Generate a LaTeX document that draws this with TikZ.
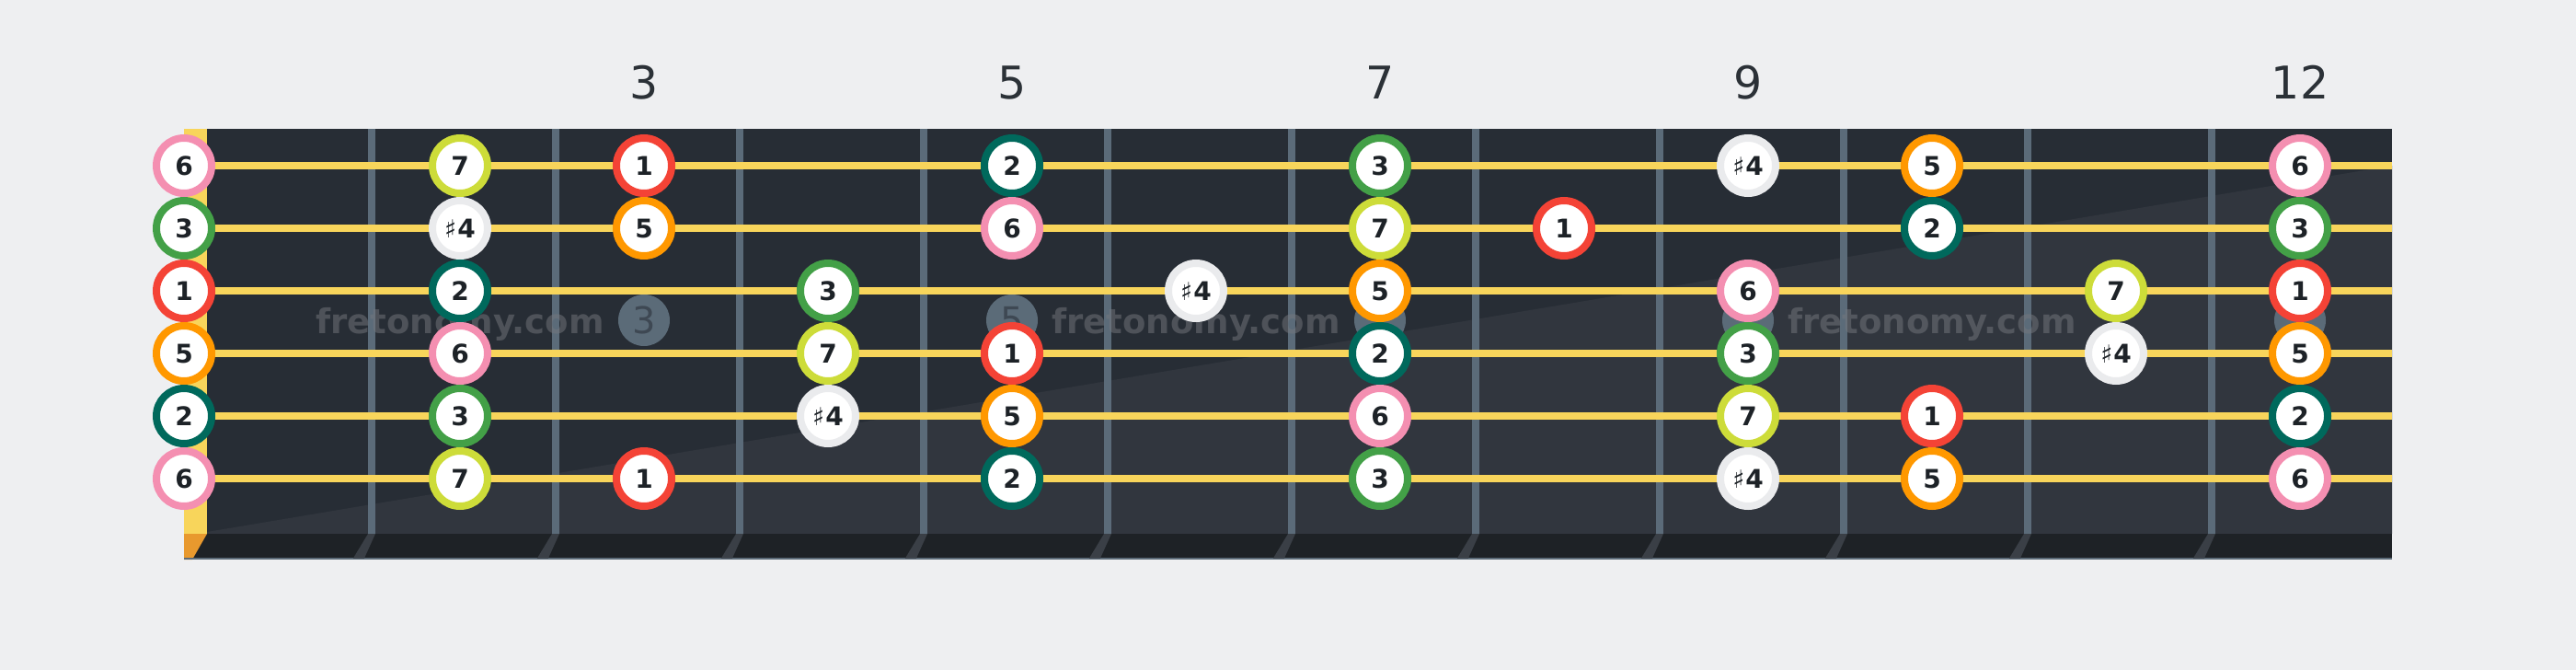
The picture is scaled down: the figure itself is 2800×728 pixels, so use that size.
\documentclass[tikz,border=0pt]{standalone}
\usepackage{fontspec}
\setmainfont{DejaVu Sans}
\newcommand\sharpsym{{\fontseries{m}\selectfont\fontsize{27}{27}\selectfont ♯\kern1pt}}
\definecolor{bg}{HTML}{EEEFF1}
\definecolor{board}{HTML}{272D35}
\definecolor{boardlt}{HTML}{31363E}
\definecolor{edgec}{HTML}{1E2226}
\definecolor{edgeline}{HTML}{5D6C79}
\definecolor{fretc}{HTML}{5B6B79}
\definecolor{fretsh}{HTML}{3A3F46}
\definecolor{strc}{HTML}{F8D55B}
\definecolor{nutbot}{HTML}{E8992E}
\definecolor{cpink}{HTML}{F48FB1}
\definecolor{clime}{HTML}{CDDC39}
\definecolor{cred}{HTML}{F44336}
\definecolor{cteal}{HTML}{00695C}
\definecolor{cgreen}{HTML}{43A047}
\definecolor{corange}{HTML}{FF9800}
\definecolor{csharp}{HTML}{EAEBED}
\definecolor{txtc}{HTML}{1D2227}
\definecolor{lblc}{HTML}{2B3137}
\definecolor{markc}{HTML}{5B6B78}
\definecolor{marktxt}{HTML}{3E4853}
\definecolor{wmc}{HTML}{75787E}
\tikzset{
  note/.style={circle, draw=#1, line width=8pt, fill=white, minimum size=60pt,
    inner sep=0pt, font=\fontsize{28}{28}\selectfont\bfseries, text=txtc},
  fretlbl/.style={font=\fontsize{49}{49}\selectfont, text=lblc, inner sep=0pt},
  marker/.style={circle, fill=markc, minimum size=56pt, inner sep=0pt,
    font=\fontsize{40}{40}\selectfont, text=marktxt},
  wm/.style={font=\fontsize{37}{37}\selectfont\bfseries, text=wmc, text opacity=0.5, inner sep=0pt, anchor=base},
  stringline/.style={draw=strc, line width=8pt},
}
\begin{document}
\begin{tikzpicture}[x=1pt,y=-1pt]
\useasboundingbox (0,0) rectangle (2800,728);
\fill[bg] (0,0) rectangle (2800,728);
% fretboard
\fill[board] (225,140) rectangle (2600,580);
\fill[boardlt] (225,578) -- (2600,180) -- (2600,580) -- (225,580) -- cycle;
% nut
\fill[strc] (200,140) rectangle (225,580);
% lower edge strip
\fill[edgec] (200,580) rectangle (2600,608);
\fill[nutbot] (200,580) -- (225,580) -- (209,608) -- (200,608) -- cycle;
\draw[edgeline, line width=1.5pt] (200,607.2) -- (2600,607.2);
% frets
\foreach \n in {1,...,11}{
  \fill[fretc] ({200+200*\n},140) rectangle ({208+200*\n},580);
  \fill[fretsh] ({200+200*\n},580) -- ({208+200*\n},580) -- ({196+200*\n},606.5) -- ({184+200*\n},606.5) -- cycle;
}
% fret labels
\node[fretlbl] (l3) at (700,89.5) {3};
\node[fretlbl] (l5) at (1100,89.5) {5};
\node[fretlbl] (l7) at (1500,89.5) {7};
\node[fretlbl] (l9) at (1900,89.5) {9};
\node[fretlbl] (l12) at (2500,89.5) {12};
% fret markers
\node[marker] (m3) at (700,348) {3};
\node[marker] (m5) at (1100,348) {5};
\node[marker] (m7) at (1500,348) {};
\node[marker] (m9) at (1900,348) {};
\node[marker] (m12) at (2500,348) {};
% watermarks
\node[wm] (w1) at (500,362) {fretonomy.com};
\node[wm] (w2) at (1300,362) {fretonomy.com};
\node[wm] (w3) at (2100,362) {fretonomy.com};
% strings
\foreach \s in {1,...,6}{
  \coordinate (sL\s) at (200,{180+68*(\s-1)});
  \coordinate (sR\s) at (2600,{180+68*(\s-1)});
  \draw[stringline] (sL\s) -- (sR\s);
}
% notes
\foreach \s/\f/\c/\t in {
  1/0/cpink/6, 1/2/clime/7, 1/3/cred/1, 1/5/cteal/2, 1/7/cgreen/3, 1/9/csharp/\sharpsym4, 1/10/corange/5, 1/12/cpink/6,
  2/0/cgreen/3, 2/2/csharp/\sharpsym4, 2/3/corange/5, 2/5/cpink/6, 2/7/clime/7, 2/8/cred/1, 2/10/cteal/2, 2/12/cgreen/3,
  3/0/cred/1, 3/2/cteal/2, 3/4/cgreen/3, 3/6/csharp/\sharpsym4, 3/7/corange/5, 3/9/cpink/6, 3/11/clime/7, 3/12/cred/1,
  4/0/corange/5, 4/2/cpink/6, 4/4/clime/7, 4/5/cred/1, 4/7/cteal/2, 4/9/cgreen/3, 4/11/csharp/\sharpsym4, 4/12/corange/5,
  5/0/cteal/2, 5/2/cgreen/3, 5/4/csharp/\sharpsym4, 5/5/corange/5, 5/7/cpink/6, 5/9/clime/7, 5/10/cred/1, 5/12/cteal/2,
  6/0/cpink/6, 6/2/clime/7, 6/3/cred/1, 6/5/cteal/2, 6/7/cgreen/3, 6/9/csharp/\sharpsym4, 6/10/corange/5, 6/12/cpink/6}{
  \pgfmathsetmacro\xx{ifthenelse(\f==0,200,100+200*\f)}
  \node[note=\c] (s\s f\f) at (\xx,{180+68*(\s-1)}) {\t};
}
\end{tikzpicture}
\end{document}
